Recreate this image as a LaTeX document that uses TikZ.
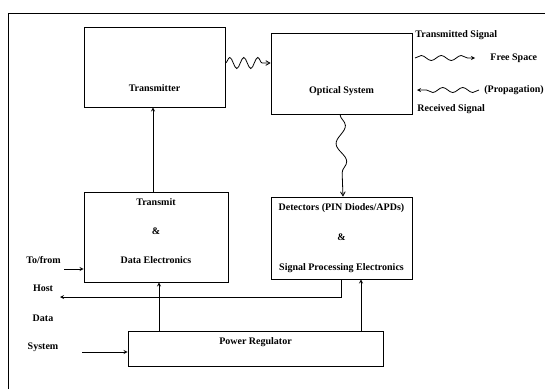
\documentclass[tikz,border=0pt]{standalone}
\usepackage{fontspec}
\setmainfont{Liberation Serif}
\usetikzlibrary{arrows,positioning,calc,decorations.pathmorphing}

\begin{document}
\begin{tikzpicture}[>=stealth,x=1pt,y=-1pt,line width=0.8pt,
  every node/.style={font=\bfseries\fontsize{10}{12}\selectfont},
  blk/.style={draw,inner sep=0pt},
  lgd/.style={anchor=west,inner sep=0pt},
  wave/.style={decorate,decoration={snake,#1}}]
\useasboundingbox (0,0) rectangle (545,389);
\draw[line width=1pt] (8,389) -- (8,13) -- (545,13);

\node[blk,minimum width=141pt,minimum height=80pt,label={[yshift=-21pt]center:Transmitter}] (tx) at (154.5,67) {};
\node[blk,minimum width=141pt,minimum height=81pt,label={[yshift=-17.5pt]center:Optical System}] (optics) at (341.5,73.5) {};
\node[blk,minimum width=144pt,minimum height=90pt,label={[align=center,yshift=6pt]center:{Transmit\\[17pt]\&\\[17pt]Data Electronics}}] (txel) at (156,237) {};
\node[blk,minimum width=141pt,minimum height=82pt,label={[align=center]center:{Detectors (PIN Diodes/APDs)\\[18pt]\&\\[18pt]Signal Processing Electronics}}] (det) at (341.5,238) {};
\node[blk,minimum width=255pt,minimum height=35pt,label={[yshift=6.5pt]center:Power Regulator}] (pwr) at (255.5,348.5) {};

\node (tofrom) at (43.5,260) {To/from};
\node (host) at (43,288) {Host};
\node (data) at (43,318) {Data};
\node (sys) at (43,347) {System};

\node[lgd] (txsig) at (415,35) {Transmitted Signal};
\node[lgd] (free) at (490,58) {Free Space};
\node[lgd] (prop) at (484,90) {(Propagation)};
\node[lgd] (rxsig) at (417,109) {Received Signal};

\coordinate (hostin) at (60,297);
\coordinate (hostout) at (64,269);
\coordinate (sysout) at (82,352);

\draw[->] ([xshift=-3pt]txel.north) -- ([xshift=-3pt]txel.north |- tx.south);
\draw[->] ([xshift=3pt]txel.south |- pwr.north) -- ([xshift=3pt]txel.south);
\draw[->] ([xshift=19.5pt]det.south |- pwr.north) -- ([xshift=19.5pt]det.south);
\draw[->] (det.south) |- (hostin);
\draw[->] (hostout) -- (hostout -| txel.west);
\draw[->] (sysout) -- (sysout -| pwr.west);

\draw[-angle 60,wave={amplitude=5.5pt,segment length=14pt,post length=7pt}] ([yshift=4pt]tx.east) -- ([yshift=4pt]tx.east -| optics.west);
\draw[-angle 60,wave={amplitude=5pt,segment length=36pt,post length=12pt}] ([xshift=-1.5pt]optics.south) -- ([xshift=1.5pt]det.north);
\draw[->,wave={amplitude=2.5pt,segment length=20pt,post length=5pt}] (txsig.west |- free.west) -- ([xshift=-15pt]free.west);
\draw[->,wave={amplitude=2.5pt,segment length=20pt,post length=5pt}] ([xshift=-5pt]prop.west) -- (rxsig.west |- prop.west);
\end{tikzpicture}
\end{document}
